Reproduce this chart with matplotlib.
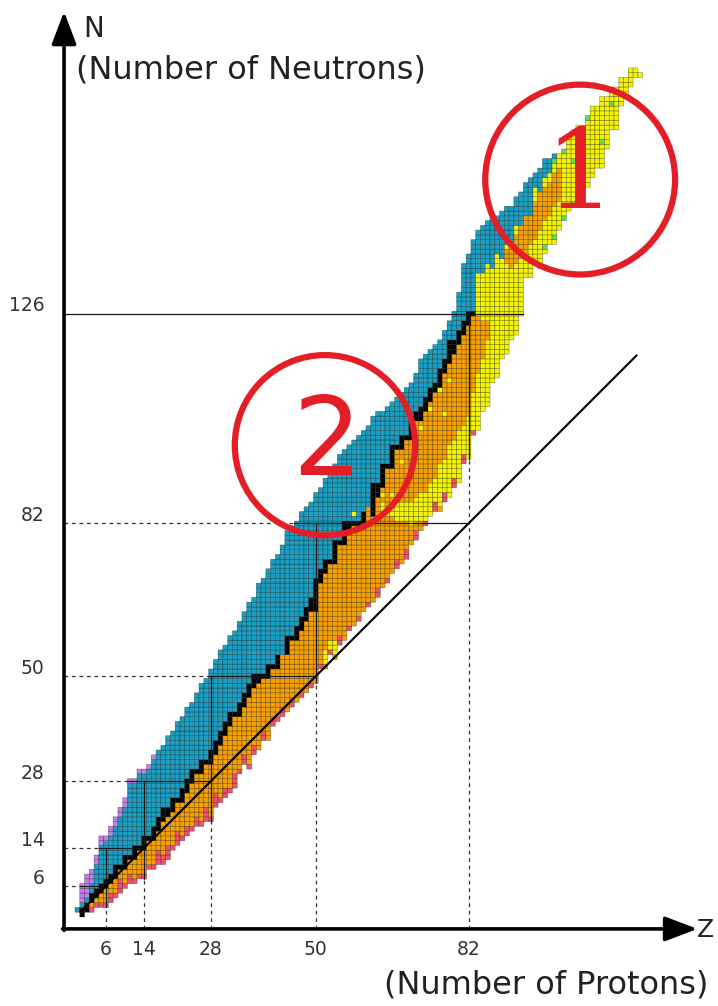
import numpy as np
import matplotlib
matplotlib.use("Agg")
import matplotlib.pyplot as plt
from matplotlib.colors import ListedColormap
from matplotlib.patches import Circle

plt.rcParams['font.family'] = ['DejaVu Sans']

# ---------------- data (index = Z, proton number) ----------------
n_min = [1,
         0, 1, 1, 2, 2, 2, 3, 4, 5, 6,
         7, 7, 8, 8, 10, 10, 11, 11, 12, 14,
         15, 16, 17, 18, 19, 19, 20, 20, 23, 24,
         25, 26, 27, 30, 32, 31, 34, 35, 37, 37,
         40, 41, 42, 43, 44, 45, 46, 47, 48, 49,
         52, 52, 55, 54, 57, 58, 60, 61, 62, 64,
         65, 66, 67, 69, 70, 72, 73, 74, 75, 78,
         79, 81, 82, 84, 85, 85, 87, 88, 90, 91,
         95, 96, 101, 102, 106, 107, 112, 113, 117, 118,
         121, 122, 126, 134, 134, 137, 136, 139, 141, 141,
         144, 146, 148, 149, 150, 152, 153, 155, 157, 157,
         161, 165, 165, 170, 172, 174, 176, 176]
n_max = [1,
         6, 8, 9, 12, 16, 16, 18, 20, 22, 24,
         28, 28, 30, 30, 31, 33, 34, 35, 37, 38,
         40, 41, 43, 44, 46, 48, 49, 51, 53, 55,
         56, 58, 59, 61, 63, 65, 66, 69, 70, 72,
         74, 75, 77, 80, 81, 82, 84, 85, 86, 88,
         89, 91, 92, 94, 96, 97, 98, 99, 100, 101,
         102, 104, 105, 105, 106, 107, 108, 109, 110, 111,
         113, 116, 117, 118, 119, 120, 122, 124, 126, 130,
         136, 138, 141, 143, 144, 145, 146, 146, 147, 148,
         148, 150, 151, 153, 154, 155, 156, 158, 158, 159,
         159, 160, 163, 164, 165, 165, 167, 169, 169, 171,
         171, 173, 173, 175, 175, 177, 177, 176]
# stable (black) band; cells above -> beta- (teal), below -> beta+ (orange)
stable_lo = [1,
             0, 1, 3, 4, 5, 6, 7, 8, 10, 10,
             12, 12, 14, 14, 16, 16, 18, 20, 21, 22,
             24, 24, 26, 28, 30, 30, 32, 32, 34, 36,
             38, 40, 42, 42, 44, 46, 48, 49, 50, 50,
             52, 52, 55, 55, 58, 58, 60, 62, 64, 64,
             70, 72, 74, 74, 78, 78, 81, 82, 82, 82,
             86, 84, 88, 90, 94, 94, 98, 98, 100, 100,
             104, 104, 106, 108, 110, 111, 114, 116, 118, 120,
             122, 124, 126, 135, 135, 137, 136, 139, 138, 141,
             141, 145, 145, 147, 147, 153, 152, 155, 156, 159,
             160, 161, 164, 165, 166, 166, 168, 170, 170, 172,
             172, 174, 174, 176, 176, 178, 178, 177]
stable_hi = [0,
             1, 2, 4, 5, 6, 7, 8, 10, 10, 12,
             12, 14, 14, 16, 16, 18, 20, 22, 22, 24,
             24, 26, 28, 30, 30, 32, 32, 34, 36, 38,
             40, 42, 42, 44, 46, 48, 50, 50, 50, 52,
             52, 54, 54, 58, 58, 60, 62, 64, 66, 70,
             72, 74, 74, 78, 78, 82, 82, 82, 82, 84,
             85, 90, 90, 94, 94, 98, 98, 100, 100, 104,
             105, 106, 108, 110, 111, 114, 116, 120, 120, 122,
             124, 126, 126, 134, 134, 136, 135, 138, 137, 140,
             140, 144, 144, 146, 146, 152, 151, 154, 155, 158,
             159, 160, 163, 164, 165, 165, 167, 169, 169, 171,
             171, 173, 173, 175, 175, 177, 177, 176]
# alpha-decay (yellow) ranges
alpha_z = [52, 53, 54, 64, 65, 66, 67, 68, 69, 70, 71, 72, 73, 74, 75, 76, 77,
           78, 79, 80, 81, 82, 83, 84, 85, 86, 87, 88, 89, 90, 91, 92, 93, 94,
           95, 96, 97, 98, 99, 100, 101, 102, 103, 104, 105, 106, 107, 108,
           109, 110, 111, 112, 113, 114, 115, 116, 117, 118]
alpha_lo = [53, 55, 55, 84, 84, 84, 83, 83, 83, 82, 83, 83, 83, 84, 85, 86, 87,
            88, 90, 91, 95, 96, 101, 102, 106, 107, 112, 113, 117, 118, 121, 122, 126, 134,
            134, 137, 136, 139, 141, 141, 144, 146, 148, 149, 150, 152, 153, 155,
            157, 157, 161, 165, 165, 170, 172, 174, 176, 176]
alpha_hi = [55, 57, 57, 86, 85, 86, 86, 86, 86, 86, 87, 88, 88, 90, 91, 94, 95,
            98, 99, 101, 102, 104, 109, 134, 134, 136, 135, 138, 137, 140, 140, 144, 144, 146,
            146, 152, 151, 154, 155, 158, 159, 160, 163, 164, 165, 165, 167, 169,
            169, 171, 171, 173, 173, 175, 175, 177, 177, 176]
# electron-capture (orange) pockets inside the alpha region
ec_z = [84, 85, 86, 90, 91, 92, 93, 94, 95, 96, 97, 98, 99, 100, 101]
ec_lo = [114, 117, 121, 137, 136, 137, 138, 139, 141, 142, 144, 146, 147, 149, 150]
ec_hi = [125, 124, 124, 139, 140, 142, 144, 146, 146, 149, 151, 152, 153, 155, 156]
# proton emitters (lowest cells, pink) and neutron emitters (highest cells, purple)
pink_n = [0, 0, 0, 1, 1, 1, 1, 2, 1, 3, 1, 2, 1, 1, 1, 1, 1, 3, 2, 3, 1,
          3, 1, 2, 1, 2, 1, 3, 1, 3, 1, 2, 1, 3, 1, 2, 1, 2, 0, 2, 0,
          2, 1, 2, 0, 2, 0, 1, 0, 1, 0, 1, 0, 1, 0, 2, 0, 1, 0, 1, 0,
          1, 0, 2, 0, 1, 0, 2, 0, 2, 0, 2, 0, 1, 0, 2, 0, 2, 0, 2, 0,
          2, 0, 1] + [0] * 35
purple_n = [0, 4, 5, 3, 2, 2, 1, 2, 2, 2, 2, 1, 1, 1, 1, 1, 1] + [0] * 102
# isolated long-lived alpha emitters and spontaneous-fission nuclides
alpha_dot_z = [58, 60, 63, 64, 66, 68, 72, 74, 76, 77, 78]
alpha_dot_n = [84, 84, 88, 88, 88, 95, 102, 106, 110, 105, 112]
sf_z = [98, 100, 102, 104, 100, 102, 104, 105, 106, 107, 110, 112]
sf_n = [140, 142, 146, 149, 158, 160, 158, 163, 165, 167, 162, 170]

magic = [6, 14, 28, 50, 82, 126]

# ---------------- build cell grid ----------------
TEAL, BLACK, ORANGE, YELLOW, PINK, PURPLE, GREEN = 1, 2, 3, 4, 5, 6, 7
nz = len(n_min)
nn = max(n_max) + 1
grid = np.zeros((nn, nz), dtype=int)
a_rng = {z: (lo, hi) for z, lo, hi in zip(alpha_z, alpha_lo, alpha_hi)}
e_rng = {z: (lo, hi) for z, lo, hi in zip(ec_z, ec_lo, ec_hi)}
for z in range(nz):
    for n in range(n_min[z], n_max[z] + 1):
        if n > stable_hi[z]:
            c = TEAL
        elif n >= stable_lo[z]:
            c = BLACK
        else:
            c = ORANGE
        if c == ORANGE and z in a_rng and a_rng[z][0] <= n <= a_rng[z][1]:
            c = YELLOW
        if c == YELLOW and z in e_rng and e_rng[z][0] <= n <= e_rng[z][1]:
            c = ORANGE
        if n < n_min[z] + pink_n[z]:
            c = PINK
        if n > n_max[z] - purple_n[z]:
            c = PURPLE
        grid[n, z] = c
for z, n in zip(alpha_dot_z, alpha_dot_n):
    if grid[n, z] not in (0, BLACK):
        grid[n, z] = YELLOW
for z, n in zip(sf_z, sf_n):
    if grid[n, z] != 0:
        grid[n, z] = GREEN

cmap = ListedColormap(['#1a9ec2', '#000000', '#f6a000', '#f4f400',
                       '#f0506c', '#c47ee6', '#5ce05a'])

# ---------------- figure ----------------
S, X0, Y0 = 4.77, 77.4, 914.6          # pixels per unit, origin pixel
W, H = 718, 1006
fig = plt.figure(figsize=(W / 100, H / 100), dpi=100)
ax = fig.add_axes([0, 0, 1, 1])
ax.axis('off')
ax.set_xlim(-X0 / S, (W - X0) / S)
ax.set_ylim((Y0 - H) / S, Y0 / S)

ax.pcolor(np.arange(nz + 1) - 0.5, np.arange(nn + 1) - 0.5,
          np.ma.masked_equal(grid, 0), cmap=cmap, vmin=0.5, vmax=7.5,
          edgecolors=(0, 0, 0, 0.45), linewidth=0.4, zorder=1)

ax_z, ax_n = -2.8, -3.0    # position of the drawn axes

# magic number lines
dash = dict(color='#333333', lw=0.9, ls=(0, (3, 3)), zorder=2)
solid = dict(color='#1a1a1a', lw=0.9, zorder=2)
for i, m in enumerate(magic):
    zs = [z for z in range(nz) if n_min[z] <= m <= n_max[z]]
    if m == 126:
        ax.plot([ax_z, max(zs) + 0.5], [m, m], **solid)
        continue
    zl = min(zs) - 0.5
    ax.plot([ax_z, zl], [m, m], **dash)
    ax.plot([zl, m], [m, m], **solid)
    nl = n_min[m] - 0.5
    ax.plot([m, m], [ax_n, nl], **dash)
    ax.plot([m, m], [nl, magic[i + 1]], **solid)

# N = Z line
ax.plot([0.6, 117.2], [0.6, 117.2], color='black', lw=1.5, zorder=3)

# axes with arrows
arrow = dict(arrowstyle='-|>,head_length=1.0,head_width=0.38', lw=2.6,
             color='black', shrinkA=0, shrinkB=0, mutation_scale=20)
ax.annotate('', xy=(ax_z, 189.3), xytext=(ax_z, ax_n - 0.3), arrowprops=arrow, zorder=6)
ax.annotate('', xy=(130.0, ax_n), xytext=(ax_z - 0.3, ax_n), arrowprops=arrow, zorder=6)

# tick labels
for m in magic:
    ax.text(-6.9, m + 1.6, str(m), ha='right', va='center', fontsize=13.5, color='#333333')
for m in magic[:-1]:
    ax.text(m, -7.4, str(m), ha='center', va='center', fontsize=13.5, color='#333333')

ax.text(1.3, 185.6, 'N', ha='left', va='center', fontsize=20, color='#222222')
ax.text(-0.2, 177.0, '(Number of Neutrons)', ha='left', va='center', fontsize=23, color='#222222')
ax.text(131.7, -3.3, 'Z', ha='center', va='center', fontsize=18, color='#222222')
ax.text(132.2, -14.8, '(Number of Protons)', ha='right', va='center', fontsize=23, color='#222222')

# red circle annotations
red = '#e41e26'
ax.add_patch(Circle((105.4, 154.1), 19.9, fill=False, ec=red, lw=4.5, zorder=7))
ax.add_patch(Circle((51.9, 98.4), 18.9, fill=False, ec=red, lw=4.5, zorder=7))
ax.text(105.4, 154.5, '1', ha='center', va='center', fontsize=80, color=red,
        family='DejaVu Serif', zorder=8)
ax.text(52.3, 98.4, '2', ha='center', va='center', fontsize=78, color=red, zorder=8)

fig.savefig('out.png', dpi=100)
